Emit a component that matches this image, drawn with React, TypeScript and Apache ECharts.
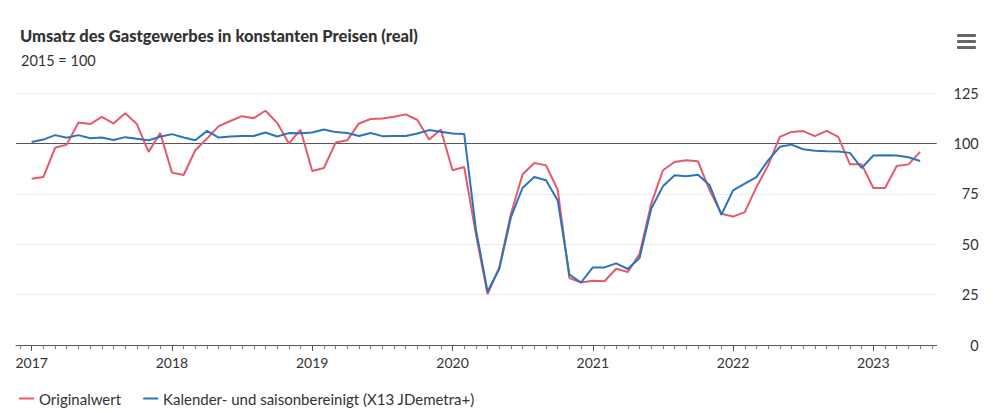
import React, { useEffect, useRef } from "react";
import * as echarts from "echarts";

const months: string[] = [];
for (let y = 2017; y <= 2023; y++) {
  for (let m = 1; m <= 12; m++) {
    if (y === 2023 && m > 5) break;
    months.push(`${y}-${String(m).padStart(2, "0")}`);
  }
}

const originalwert = [
  82.5, 83.3, 97.8, 99.4, 110.4, 109.6, 113.2, 109.9, 114.9, 109.6, 95.8, 105.2,
  85.5, 84.3, 96.6, 102.4, 108.6, 111.1, 113.5, 112.5, 116.2, 110.2, 99.9, 106.8,
  86.3, 87.8, 100.4, 101.6, 109.9, 112.1, 112.4, 113.2, 114.4, 111.6, 101.9, 106.9,
  86.7, 88.3, 55.0, 25.2, 38.5, 65.1, 84.7, 90.3, 89.1, 77.0, 33.2, 31.0,
  31.9, 31.6, 37.8, 36.2, 45.2, 70.1, 86.7, 90.8, 91.6, 91.1, 76.7, 65.1,
  63.7, 65.9, 78.3, 89.1, 103.2, 105.7, 106.1, 103.6, 106.2, 103.2, 89.6, 89.6,
  77.9, 77.9, 88.8, 89.6, 95.8,
];

const bereinigt = [
  100.7, 101.9, 104.1, 102.8, 104.1, 102.6, 102.9, 101.7, 103.1, 102.3, 101.6, 103.3,
  104.6, 102.9, 101.6, 106.2, 102.9, 103.4, 103.7, 103.7, 105.4, 103.4, 105.1, 105.0,
  105.4, 106.9, 105.6, 105.2, 103.7, 105.2, 103.6, 103.7, 103.7, 104.9, 106.6, 105.8,
  104.9, 104.7, 57.5, 26.5, 37.7, 63.4, 78.0, 83.3, 81.7, 71.7, 34.9, 31.0,
  38.5, 38.5, 40.5, 37.7, 43.2, 67.6, 78.7, 84.2, 83.7, 84.5, 79.2, 64.6,
  76.7, 80.0, 83.3, 91.6, 98.3, 99.4, 97.1, 96.4, 96.1, 96.0, 95.3, 87.8,
  94.0, 94.1, 94.0, 93.1, 91.3,
];

const yTicks = [0, 25, 50, 75, 100, 125];
const years = [2017, 2018, 2019, 2020, 2021, 2022, 2023];

const seriesNames = ["Originalwert", "Kalender- und saisonbereinigt (X13 JDemetra+)"];
const colors = ["#e8586c", "#2a74b9"];

const FONT = "Lato, 'Source Sans Pro', 'Noto Sans', sans-serif";

export default function App() {
  const ref = useRef<HTMLDivElement>(null);
  useEffect(() => {
    if (!ref.current) return;
    const chart = echarts.init(ref.current, undefined, { renderer: "svg" });
    const monthTicks: number[] = [];
    for (let i = -1; i <= 77; i++) monthTicks.push(i);
    const yearTicks = years.map((y) => (y - 2017) * 12);
    chart.setOption({
      animation: false,
      textStyle: { fontFamily: FONT },
      title: [
        {
          text: "Umsatz des Gastgewerbes in konstanten Preisen (real)",
          left: 15,
          top: 22,
          textStyle: { fontFamily: FONT, fontSize: 16.5, fontWeight: 900, color: "#333" },
        },
        {
          text: "2015 = 100",
          left: 16,
          top: 48,
          textStyle: { fontFamily: FONT, fontSize: 14.5, fontWeight: "normal", color: "#333" },
        },
      ],
      graphic: [
        { type: "rect", left: 957, top: 34, shape: { width: 19, height: 3, r: 1 }, style: { fill: "#666" } },
        { type: "rect", left: 957, top: 40, shape: { width: 19, height: 3, r: 1 }, style: { fill: "#666" } },
        { type: "rect", left: 957, top: 46, shape: { width: 19, height: 3, r: 1 }, style: { fill: "#666" } },
      ],
      legend: {
        left: 14,
        top: 386,
        icon: "rect",
        itemWidth: 15,
        itemHeight: 2,
        itemGap: 22,
        textStyle: { fontFamily: FONT, fontSize: 15, color: "#333" },
        data: seriesNames,
      },
      grid: { left: 16, right: 63.3, top: 93, bottom: 68, containLabel: false },
      xAxis: [
        {
          type: "value",
          min: -1.34,
          max: 77.42,
          splitLine: { show: false },
          axisLine: { show: true, lineStyle: { color: "#555", width: 1 } },
          axisTick: { show: true, customValues: monthTicks, length: 4, lineStyle: { color: "#777" } },
          axisLabel: {
            show: true,
            customValues: yearTicks,
            formatter: (v: number) => String(2017 + Math.round(v / 12)),
            margin: 10,
            fontFamily: FONT,
            fontSize: 14,
            color: "#333",
          },
        },
        {
          type: "value",
          min: -1.34,
          max: 77.42,
          position: "bottom",
          splitLine: { show: false },
          axisLine: { show: false },
          axisTick: { show: true, customValues: yearTicks, length: 6, lineStyle: { color: "#555" } },
          axisLabel: { show: false },
        },
      ],
      yAxis: {
        type: "value",
        position: "right",
        min: 0,
        max: 125,
        interval: 25,
        axisLine: { show: false },
        axisTick: { show: false },
        splitLine: { show: true, lineStyle: { color: "#ececec", width: 1 } },
        axisLabel: {
          align: "right",
          margin: 42,
          fontFamily: FONT,
          fontSize: 14.5,
          color: "#333",
          customValues: yTicks,
        },
      },
      series: [
        {
          name: seriesNames[0],
          type: "line",
          data: originalwert.map((v, i) => [i, v]),
          showSymbol: false,
          symbol: "none",
          lineStyle: { color: colors[0], width: 2 },
          itemStyle: { color: colors[0] },
          z: 3,
          markLine: {
            silent: true,
            symbol: "none",
            label: { show: false },
            lineStyle: { color: "#555", width: 1.2, type: "solid" },
            data: [{ yAxis: 100 }],
            z: 2,
          },
        },
        {
          name: seriesNames[1],
          type: "line",
          data: bereinigt.map((v, i) => [i, v]),
          showSymbol: false,
          symbol: "none",
          lineStyle: { color: colors[1], width: 2 },
          itemStyle: { color: colors[1] },
          z: 4,
        },
      ],
    });
    return () => chart.dispose();
  }, []);
  return <div ref={ref} style={{ width: 1000, height: 413, position: "absolute", left: 0, top: 0 }} />;
}
